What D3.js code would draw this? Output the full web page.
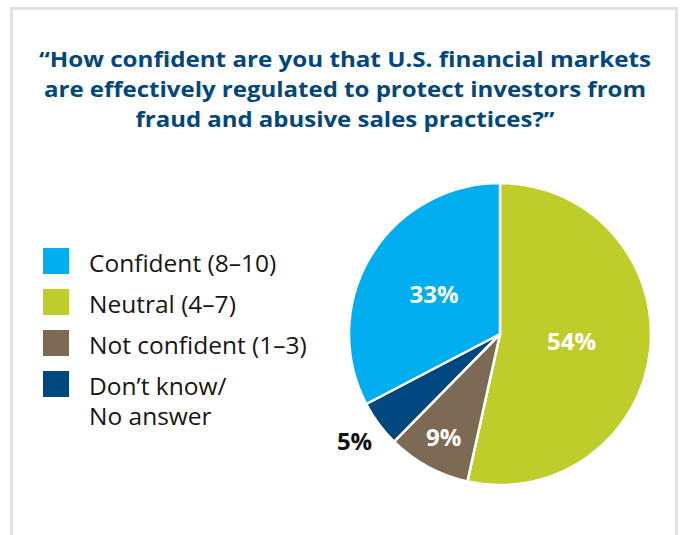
<!DOCTYPE html>
<html>
<head>
<meta charset="utf-8">
<script src="https://cdn.jsdelivr.net/npm/d3@7"></script>
<style>
  html, body { margin: 0; padding: 0; background: #fff; }
  svg { display: block; }
</style>
</head>
<body>
<svg id="chart" width="680" height="535"></svg>
<script>
const titleLines = [
  "\u201CHow confident are you that U.S. financial markets",
  "are effectively regulated to protect investors from",
  "fraud and abusive sales practices?\u201D"
];
const categories = ["Neutral (4\u20137)", "Not confident (1\u20133)", "Don\u2019t know/\nNo answer", "Confident (8\u201310)"];
const values = [54, 9, 5, 33];
const valueLabels = ["54%", "9%", "5%", "33%"];
const colors = ["#bfcd2b", "#7c6a55", "#00477f", "#00aeef"];
const legendOrder = [3, 0, 1, 2];

const svg = d3.select("#chart");

// frame
svg.append("rect")
  .attr("x", 11.5).attr("y", 8.5)
  .attr("width", 665).attr("height", 560)
  .attr("fill", "#fff")
  .attr("stroke", "#e2e2e2")
  .attr("stroke-width", 3);

// title
const titleWidths = [612, 602, 419];
const title = svg.append("g")
  .attr("font-family", "'Open Sans', sans-serif")
  .attr("font-weight", 700)
  .attr("font-size", 22)
  .attr("fill", "#00477f")
  .attr("text-anchor", "middle");
titleLines.forEach((t, i) => {
  title.append("text")
    .attr("x", 345)
    .attr("y", 67 + i * 30)
    .attr("textLength", titleWidths[i])
    .attr("lengthAdjust", "spacingAndGlyphs")
    .text(t);
});

// pie
const cx = 500, cy = 334, r = 151;
const pie = d3.pie().sort(null).value(d => d);
const arcs = pie(values);
const arc = d3.arc().innerRadius(0).outerRadius(r);
const g = svg.append("g").attr("transform", `translate(${cx},${cy})`);
g.selectAll("path")
  .data(arcs)
  .join("path")
  .attr("d", arc)
  .attr("fill", (d, i) => colors[i])
  .attr("stroke", "#fff")
  .attr("stroke-width", 2.5)
  .attr("stroke-linejoin", "round");

const labelRadius = [72, 118, 181, 77];
const labelColor = ["#fff", "#fff", "#111", "#fff"];
g.selectAll("text.val")
  .data(arcs)
  .join("text")
  .attr("class", "val")
  .attr("transform", (d, i) => {
    const c = d3.arc().innerRadius(labelRadius[i]).outerRadius(labelRadius[i]).centroid(d);
    return `translate(${c[0]},${c[1]})`;
  })
  .attr("dy", "0.36em")
  .attr("text-anchor", "middle")
  .attr("font-family", "'Open Sans', sans-serif")
  .attr("font-weight", 700)
  .attr("font-size", 24)
  .attr("fill", (d, i) => labelColor[i])
  .text((d, i) => valueLabels[i]);

// legend
const legend = svg.append("g")
  .attr("font-family", "'Open Sans', sans-serif")
  .attr("font-size", 24.5)
  .attr("font-weight", 500)
  .attr("fill", "#161616");
legendOrder.forEach((idx, k) => {
  const y0 = 248 + k * 41;
  legend.append("rect")
    .attr("x", 43).attr("y", y0)
    .attr("width", 26).attr("height", 26)
    .attr("fill", colors[idx]);
  const lines = categories[idx].split("\n");
  lines.forEach((ln, j) => {
    legend.append("text")
      .attr("x", 89)
      .attr("y", y0 + 24 + j * 30)
      .text(ln);
  });
});
</script>
</body>
</html>
